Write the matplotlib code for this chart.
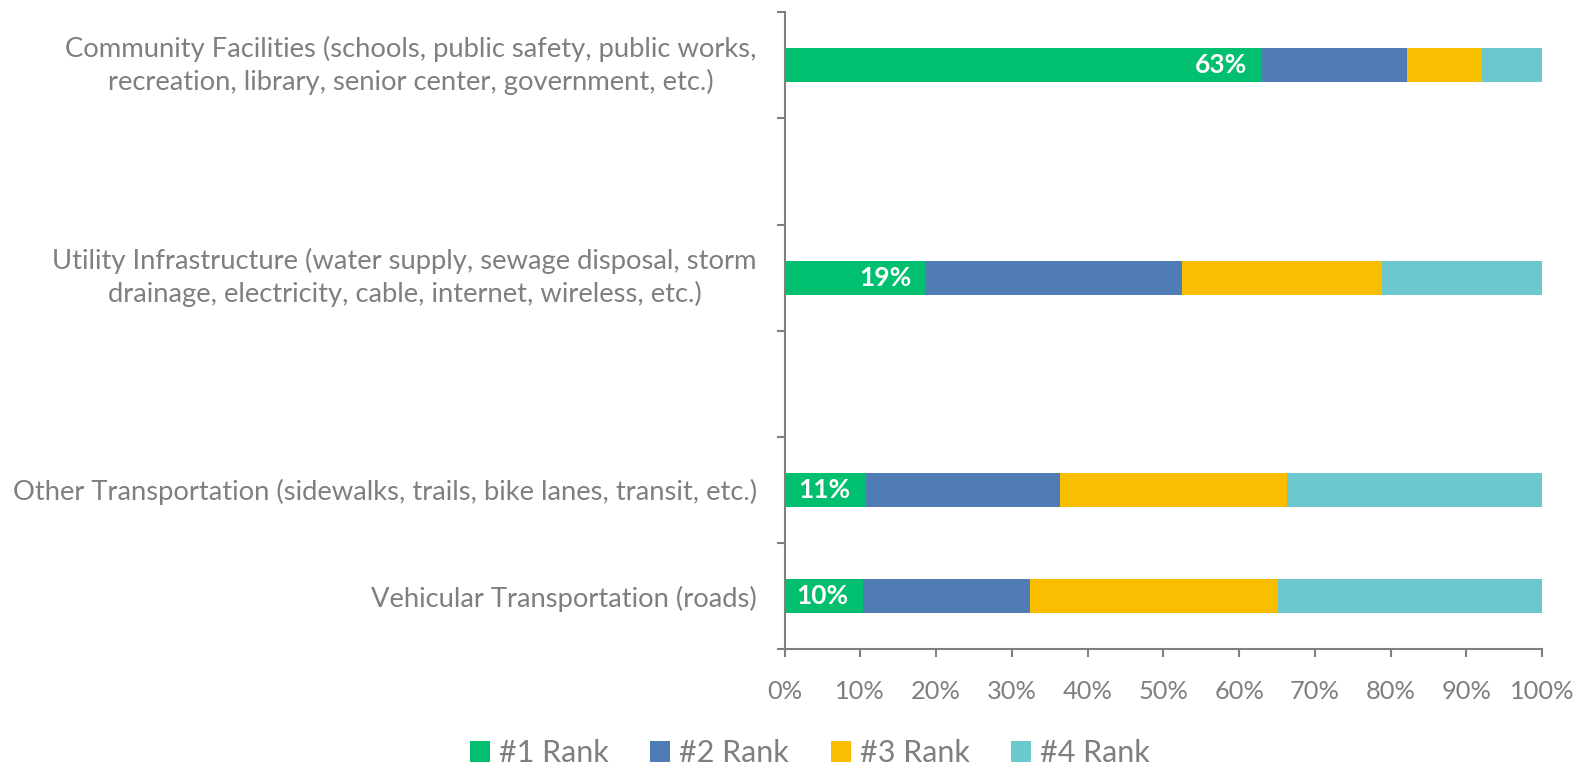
import numpy as np
import matplotlib
matplotlib.use("Agg")
from matplotlib import pyplot as plt
from matplotlib.ticker import PercentFormatter, FixedLocator

plt.rcParams['font.family'] = ['Lato', 'DejaVu Sans']

# Data (top to bottom); empty strings are blank slots on the axis
categories = [
    "Community Facilities (schools, public safety, public works,\nrecreation, library, senior center, government, etc.)",
    "",
    "Utility Infrastructure (water supply, sewage disposal, storm\ndrainage, electricity, cable, internet, wireless, etc.)",
    "",
    "Other Transportation (sidewalks, trails, bike lanes, transit, etc.)",
    "Vehicular Transportation (roads)",
]
rank1 = [63.0, np.nan, 18.7, np.nan, 10.7, 10.4]
rank2 = [19.1, np.nan, 33.8, np.nan, 25.6, 22.0]
rank3 = [10.0, np.nan, 26.3, np.nan, 30.0, 32.7]
rank4 = [7.9, np.nan, 21.2, np.nan, 33.7, 34.9]
series_names = ["#1 Rank", "#2 Rank", "#3 Rank", "#4 Rank"]
colors = ["#00BF6F", "#507CB6", "#F9BE00", "#6BC8CD"]

gray = "#7F7F7F"

fig = plt.figure(figsize=(15.85, 7.7), dpi=100)
ax = fig.add_axes([0.495, 0.157, 0.478, 0.827])

y = np.arange(len(categories)) + 0.5
left = np.zeros(len(categories))
for vals, name, col in zip([rank1, rank2, rank3, rank4], series_names, colors):
    v = np.nan_to_num(np.array(vals))
    ax.barh(y, v, left=left, height=0.32, color=col, label=name, edgecolor='none')
    left = left + v

# labels on the #1 Rank segment
for yi, v in zip(y, rank1):
    if not np.isnan(v):
        ax.text(v - 2.0, yi, f"{v:.0f}%", ha='right', va='center',
                color='white', fontsize=19, fontweight='bold')

ax.set_xlim(0, 100)
ax.set_ylim(len(categories), 0)
ax.xaxis.set_major_locator(FixedLocator(np.arange(0, 101, 10)))
ax.xaxis.set_major_formatter(PercentFormatter(decimals=0))

ax.set_yticks(y)
ax.set_yticklabels(categories)
ax.yaxis.set_minor_locator(FixedLocator(np.arange(0, len(categories) + 1)))
ax.tick_params(axis='y', which='major', length=0, pad=20, labelsize=19.7, labelcolor=gray)
ax.tick_params(axis='y', which='minor', length=6, width=1.5, color='#808080')
ax.tick_params(axis='x', which='major', length=6, width=1.5, color='#808080',
               labelsize=18.3, labelcolor=gray, pad=16)
for lbl in ax.get_yticklabels():
    lbl.set_multialignment('center')
    lbl.set_linespacing(1.32)
    if "\n" in lbl.get_text():
        lbl.set_verticalalignment('center')

for s in ['top', 'right']:
    ax.spines[s].set_visible(False)
for s in ['left', 'bottom']:
    ax.spines[s].set_color('#808080')
    ax.spines[s].set_linewidth(1.5)

leg = fig.legend(loc='center', bbox_to_anchor=(0.511, 0.022), ncol=4, frameon=False,
                 fontsize=22, handlelength=0.65, handleheight=0.65, handletextpad=0.3,
                 columnspacing=1.36, borderpad=0)
for t in leg.get_texts():
    t.set_color(gray)

fig.savefig("out.png", dpi=100)
